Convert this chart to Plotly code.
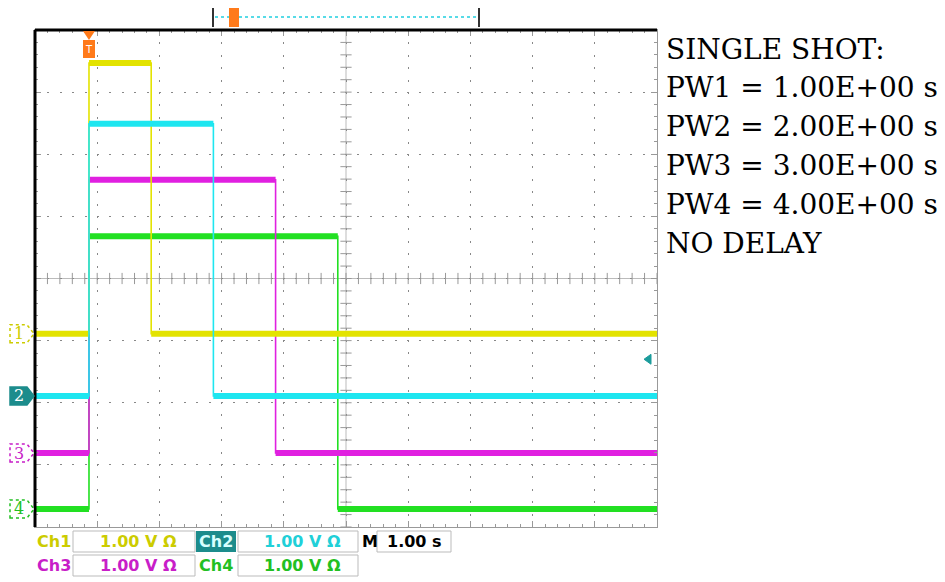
import numpy as np
import plotly.graph_objects as go

# --- data (time in s, level in divisions) ---
channels = ["Ch1", "Ch2", "Ch3", "Ch4"]
pulse_width_s = [1.0, 2.0, 3.0, 4.0]
low_div = [-0.89, -1.89, -2.81, -3.71]
high_div = [3.47, 2.49, 1.59, 0.68]
colors = ["#e3e300", "#1ee6f0", "#e020e0", "#22e022"]
label_colors = ["#cccc00", "#20d0d8", "#c81ec8", "#22c022"]
scale_text = ["1.00 V Ω", "1.00 V Ω", "1.00 V Ω", "1.00 V Ω"]
timebase_text = "1.00 s"
info_lines = ["SINGLE SHOT:", "PW1 = 1.00E+00 s", "PW2 = 2.00E+00 s",
              "PW3 = 3.00E+00 s", "PW4 = 4.00E+00 s", "NO DELAY"]
trig_level_div = -1.30

t_left, t_right = -0.868, 9.132   # 10 divisions, trigger 0.868 div in
W, H = 945, 582
OFF = 8                            # page body margin
PL, PR, PT, PB = 35, 657, 30, 527  # plot area as seen on screen


def px(x):
    return (x - PL) / (PR - PL)


def py(y):
    return (PB - y) / (PB - PT)


fig = go.Figure()

# graticule ticks on the centre cross
mx = t_left + np.arange(0, 10.001, 0.2)
my = np.arange(-4, 4.001, 0.2)
tc = t_left + 5
fig.add_trace(go.Scatter(x=mx, y=np.zeros_like(mx), mode="markers",
                         marker=dict(symbol="line-ns", size=8, line=dict(width=1, color="#999")),
                         hoverinfo="skip"))
fig.add_trace(go.Scatter(x=np.full_like(my, tc), y=my, mode="markers",
                         marker=dict(symbol="line-ew", size=8, line=dict(width=1, color="#999")),
                         hoverinfo="skip"))

# channel traces (ch2 ends up on top)
for i in [3, 2, 0, 1]:
    pw, lo, hi = pulse_width_s[i], low_div[i], high_div[i]
    fig.add_trace(go.Scatter(
        x=[t_left, 0, 0, pw, pw, t_right], y=[lo, lo, hi, hi, lo, lo],
        mode="lines", line=dict(color=colors[i], width=1.6), name=channels[i]))
    fig.add_trace(go.Scatter(
        x=[t_left, 0, None, 0, pw, None, pw, t_right],
        y=[lo, lo, None, hi, hi, None, lo, lo],
        mode="lines", line=dict(color=colors[i], width=6), hoverinfo="skip"))

shapes = []
# centre cross lines
shapes.append(dict(type="line", xref="x", yref="paper", x0=tc, x1=tc, y0=0, y1=1,
                   line=dict(color="#bbb", width=1), layer="below"))
shapes.append(dict(type="line", xref="paper", yref="y", x0=0, x1=1, y0=0, y1=0,
                   line=dict(color="#bbb", width=1), layer="below"))
# black left / top frame
shapes.append(dict(type="line", xref="paper", yref="paper", x0=0, x1=0, y0=0, y1=1,
                   line=dict(color="black", width=3)))
shapes.append(dict(type="line", xref="paper", yref="paper", x0=0, x1=1, y0=1, y1=1,
                   line=dict(color="black", width=3)))

annotations = []

# channel ground markers on the left
for i in range(4):
    lv = low_div[i]
    h = 9 / 62.1
    x0, x1, x2 = px(10), px(27), px(34)
    path = f"M{x0},{lv - h} L{x1},{lv - h} L{x2},{lv} L{x1},{lv + h} L{x0},{lv + h} Z"
    filled = i == 1
    shapes.append(dict(type="path", xref="paper", yref="y", path=path,
                       fillcolor="#1c8c8c" if filled else "white",
                       line=dict(color="#1c8c8c" if filled else label_colors[i], width=1.5,
                                 dash="solid" if filled else "dot")))
    annotations.append(dict(xref="paper", yref="y", x=px(19), y=lv, text=str(i + 1),
                            xanchor="center", yanchor="middle", showarrow=False,
                            font=dict(family="DejaVu Serif", size=16,
                                      color="white" if filled else label_colors[i])))

# trigger position marker (t = 0)
t0 = (0 - t_left) / (t_right - t_left)
dx = 6 / (PR - PL)
shapes.append(dict(type="path", xref="paper", yref="paper",
                   path=f"M{t0 - dx},{py(31)} L{t0 + dx},{py(31)} L{t0},{py(40)} Z",
                   fillcolor="#ff7a1a", line=dict(width=0)))
shapes.append(dict(type="rect", xref="paper", yref="paper", x0=t0 - dx, x1=t0 + dx,
                   y0=py(58), y1=py(40), fillcolor="#ff7a1a", line=dict(width=0)))
annotations.append(dict(xref="paper", yref="paper", x=t0, y=py(49), text="T",
                        xanchor="center", yanchor="middle", showarrow=False,
                        font=dict(family="DejaVu Sans", size=10, color="white")))

# record bracket at top
for xb in [213, 479]:
    shapes.append(dict(type="line", xref="paper", yref="paper", x0=px(xb), x1=px(xb),
                       y0=py(7), y1=py(27), line=dict(color="#333", width=2)))
shapes.append(dict(type="line", xref="paper", yref="paper", x0=px(215), x1=px(478),
                   y0=py(17), y1=py(17), line=dict(color="#20d0e0", width=1.5, dash="dot")))
shapes.append(dict(type="rect", xref="paper", yref="paper", x0=px(229), x1=px(239),
                   y0=py(27), y1=py(8), fillcolor="#ff7a1a", line=dict(width=0)))

# trigger level arrow on the right
ty = trig_level_div
shapes.append(dict(type="path", xref="paper", yref="y",
                   path=f"M{px(644)},{ty} L{px(651)},{ty + 0.08} L{px(651)},{ty - 0.08} Z",
                   fillcolor="#1c9c9c", line=dict(color="#1c9c9c", width=1)))

# info text on the right
for k, line in enumerate(info_lines):
    annotations.append(dict(xref="paper", yref="paper", x=px(664), y=py(49 + 38.9 * k),
                            xanchor="left", yanchor="middle", text=line, showarrow=False,
                            font=dict(family="DejaVu Serif", size=28, color="black")))

# readout boxes at the bottom
lab_font = "DejaVu Sans"
rows = [(541, 531, 552), (565, 555, 576)]
for i in range(4):
    r = i // 2
    yc, ya, yb = rows[r]
    left = i % 2 == 0
    lx = 35 if left else 197
    bx0, bx1 = (73, 195) if left else (238, 358)
    shapes.append(dict(type="rect", xref="paper", yref="paper", x0=px(bx0), x1=px(bx1),
                       y0=py(yb), y1=py(ya), line=dict(color="#bbb", width=1)))
    if i == 1:
        shapes.append(dict(type="rect", xref="paper", yref="paper", x0=px(196), x1=px(236),
                           y0=py(yb), y1=py(ya), fillcolor="#1c8c8c", line=dict(width=0)))
    annotations.append(dict(xref="paper", yref="paper", x=px(lx), y=py(yc),
                            xanchor="left", yanchor="middle",
                            text=f"<b>{channels[i]}</b>", showarrow=False,
                            font=dict(family=lab_font, size=16,
                                      color="#d8ffff" if i == 1 else label_colors[i])))
    annotations.append(dict(xref="paper", yref="paper", x=px((bx0 + bx1) / 2 + 4), y=py(yc),
                            xanchor="center", yanchor="middle",
                            text=f"<b>{scale_text[i]}</b>", showarrow=False,
                            font=dict(family=lab_font, size=16, color=label_colors[i])))
shapes.append(dict(type="rect", xref="paper", yref="paper", x0=px(377), x1=px(451),
                   y0=py(552), y1=py(531), line=dict(color="#bbb", width=1)))
annotations.append(dict(xref="paper", yref="paper", x=px(360), y=py(541),
                        xanchor="left", yanchor="middle",
                        text="<b>M</b>", showarrow=False,
                        font=dict(family=lab_font, size=16, color="black")))
annotations.append(dict(xref="paper", yref="paper", x=px(414), y=py(541),
                        xanchor="center", yanchor="middle",
                        text=f"<b>{timebase_text}</b>", showarrow=False,
                        font=dict(family=lab_font, size=16, color="black")))

fig.update_layout(
    width=W, height=H,
    margin=dict(l=PL - OFF, r=W - PR + OFF, t=PT - OFF, b=H - PB + OFF),
    paper_bgcolor="white", plot_bgcolor="white",
    showlegend=False,
    shapes=shapes, annotations=annotations,
    xaxis=dict(range=[t_left, t_right], tick0=t_left, dtick=1, showticklabels=False,
               showgrid=True, gridcolor="#888", gridwidth=1, griddash="2px,10.4px",
               zeroline=False, showline=True, linecolor="#999", linewidth=1, mirror="allticks",
               ticks="inside", ticklen=6, tickcolor="#999",
               minor=dict(dtick=0.2, tick0=t_left, ticks="inside", ticklen=3, tickcolor="#999",
                          showgrid=False)),
    yaxis=dict(range=[-4, 4], tick0=-4, dtick=1, showticklabels=False,
               showgrid=True, gridcolor="#888", gridwidth=1, griddash="2px,10.4px",
               zeroline=False, showline=True, linecolor="#999", linewidth=1, mirror="allticks",
               ticks="inside", ticklen=6, tickcolor="#999",
               minor=dict(dtick=0.2, tick0=-4, ticks="inside", ticklen=3, tickcolor="#999",
                          showgrid=False)),
)

fig.write_html("out.html")
